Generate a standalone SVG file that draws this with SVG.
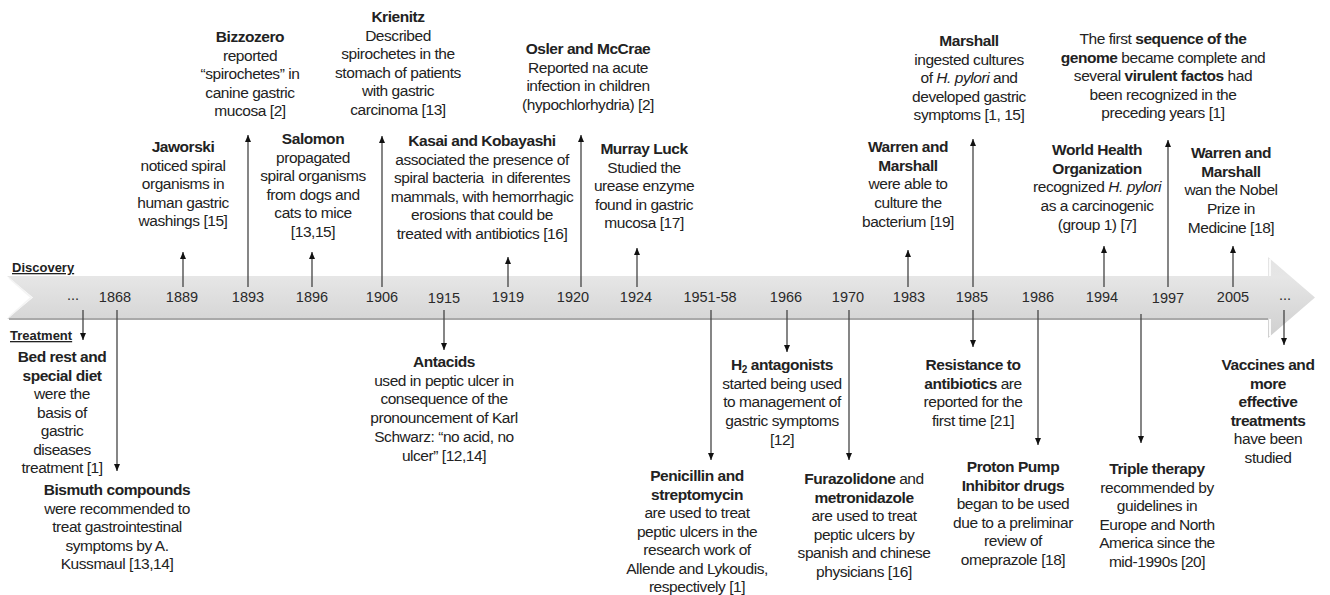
<svg xmlns="http://www.w3.org/2000/svg" width="1330" height="595" viewBox="0 0 1330 595">
<style>
text{font-family:"Liberation Sans",Arial,sans-serif;fill:#222;}
.t{font-size:15.5px;letter-spacing:-0.45px;text-anchor:middle;}
.b{font-weight:bold;}
.i{font-style:italic;}
.yr{font-size:14.5px;text-anchor:middle;fill:#2a2a2a;}
.lbl{font-size:13px;font-weight:bold;text-decoration:underline;}
.c line{stroke:#444;stroke-width:1.3;marker-end:url(#ah);}
</style>
<defs>
<marker id="ah" viewBox="0 0 7 6" refX="7" refY="3" markerWidth="7" markerHeight="6" markerUnits="userSpaceOnUse" orient="auto">
<path d="M0,0 L7,3 L0,6 z" fill="#111"/>
</marker>
<linearGradient id="bandGrad" x1="0" y1="0" x2="0" y2="1">
<stop offset="0" stop-color="#e4e4e4"/>
<stop offset="0.25" stop-color="#e6e6e6"/>
<stop offset="0.7" stop-color="#d8d8d8"/>
<stop offset="1" stop-color="#cfcfcf"/>
</linearGradient>
</defs>
<rect width="1330" height="595" fill="#fff"/>

<g id="timeline-band">
<polygon points="7,276 1268,276 1268,257 1315,297.5 1268,338 1268,319 7,319 33,297.5" fill="url(#bandGrad)"/>
<line x1="9" y1="319" x2="1268" y2="319" stroke="#a9a9a9" stroke-width="2"/>
<polyline points="1270,259 1270,276" fill="none" stroke="#fafafa" stroke-width="2"/>
<polyline points="1270,319 1270,336" fill="none" stroke="#fafafa" stroke-width="2"/>
<polyline points="9,278 31,297.5 9,317" fill="none" stroke="#f4f4f4" stroke-width="1.5"/>
</g>

<g id="section-labels">
<text class="lbl" x="12" y="272">Discovery</text>
<text class="lbl" x="10" y="340">Treatment</text>
</g>

<g id="years">
<text class="yr" x="73" y="300" fill="#555">...</text>
<text class="yr" x="115" y="302">1868</text>
<text class="yr" x="182" y="302">1889</text>
<text class="yr" x="248" y="302">1893</text>
<text class="yr" x="312" y="302">1896</text>
<text class="yr" x="382" y="302">1906</text>
<text class="yr" x="444" y="303">1915</text>
<text class="yr" x="508" y="302">1919</text>
<text class="yr" x="573" y="302">1920</text>
<text class="yr" x="636" y="302">1924</text>
<text class="yr" x="710" y="302">1951-58</text>
<text class="yr" x="786" y="302">1966</text>
<text class="yr" x="848" y="302">1970</text>
<text class="yr" x="909" y="302">1983</text>
<text class="yr" x="972" y="302">1985</text>
<text class="yr" x="1038" y="302">1986</text>
<text class="yr" x="1102" y="302">1994</text>
<text class="yr" x="1168" y="303">1997</text>
<text class="yr" x="1233" y="302">2005</text>
<text class="yr" x="1285" y="300" fill="#555">...</text>
</g>

<g id="connectors" class="c">
<line x1="183" y1="287" x2="183" y2="252"/>
<line x1="248" y1="287" x2="248" y2="135"/>
<line x1="312" y1="287" x2="312" y2="252"/>
<line x1="382" y1="287" x2="382" y2="136"/>
<line x1="508" y1="287" x2="508" y2="257"/>
<line x1="581" y1="287" x2="581" y2="135"/>
<line x1="637" y1="287" x2="637" y2="248"/>
<line x1="908" y1="287" x2="908" y2="250"/>
<line x1="973" y1="287" x2="973" y2="139"/>
<line x1="1104" y1="287" x2="1104" y2="246"/>
<line x1="1168" y1="287" x2="1168" y2="140"/>
<line x1="1233" y1="287" x2="1233" y2="246"/>
<line x1="83" y1="310" x2="83" y2="340"/>
<line x1="117" y1="310" x2="117" y2="471"/>
<line x1="444" y1="310" x2="444" y2="350"/>
<line x1="711" y1="310" x2="711" y2="460"/>
<line x1="787" y1="310" x2="787" y2="352"/>
<line x1="849" y1="310" x2="849" y2="460"/>
<line x1="973" y1="310" x2="973" y2="347"/>
<line x1="1038" y1="310" x2="1038" y2="445"/>
<line x1="1141" y1="314" x2="1141" y2="443"/>
<line x1="1284" y1="310" x2="1284" y2="345"/>
</g>

<g id="jaworski">
<text class="t" x="183" y="152"><tspan class="b">Jaworski</tspan><tspan x="183" dy="18.6">noticed spiral</tspan><tspan x="183" dy="18.6">organisms in</tspan><tspan x="183" dy="18.6">human gastric</tspan><tspan x="183" dy="18.6">washings [15]</tspan></text>
</g>
<g id="bizzozero">
<text class="t" x="250" y="42"><tspan class="b">Bizzozero</tspan><tspan x="250" dy="18.5">reported</tspan><tspan x="250" dy="18.5">“spirochetes” in</tspan><tspan x="250" dy="18.5">canine gastric</tspan><tspan x="250" dy="18.5">mucosa [2]</tspan></text>
</g>
<g id="salomon">
<text class="t" x="313" y="144"><tspan class="b">Salomon</tspan><tspan x="313" dy="18.6">propagated</tspan><tspan x="313" dy="18.6">spiral organisms</tspan><tspan x="313" dy="18.6">from dogs and</tspan><tspan x="313" dy="18.6">cats to mice</tspan><tspan x="313" dy="18.6">[13,15]</tspan></text>
</g>
<g id="krienitz">
<text class="t" x="398" y="22"><tspan class="b">Krienitz</tspan><tspan x="398" dy="18.6">Described</tspan><tspan x="398" dy="18.6">spirochetes in the</tspan><tspan x="398" dy="18.6">stomach of patients</tspan><tspan x="398" dy="18.6">with gastric</tspan><tspan x="398" dy="18.6">carcinoma [13]</tspan></text>
</g>
<g id="kasai-kobayashi">
<text class="t" x="482" y="146" xml:space="preserve"><tspan class="b">Kasai and Kobayashi</tspan><tspan x="482" dy="18.6">associated the presence of</tspan><tspan x="482" dy="18.6">spiral bacteria  in diferentes</tspan><tspan x="482" dy="18.6">mammals, with hemorrhagic</tspan><tspan x="482" dy="18.6">erosions that could be</tspan><tspan x="482" dy="18.6">treated with antibiotics [16]</tspan></text>
</g>
<g id="osler-mccrae">
<text class="t" x="588" y="54"><tspan class="b">Osler and McCrae</tspan><tspan x="588" dy="18.7">Reported na acute</tspan><tspan x="588" dy="18.7">infection in children</tspan><tspan x="588" dy="18.7">(hypochlorhydria) [2]</tspan></text>
</g>
<g id="murray-luck">
<text class="t" x="644" y="154"><tspan class="b">Murray Luck</tspan><tspan x="644" dy="18.5">Studied the</tspan><tspan x="644" dy="18.5">urease enzyme</tspan><tspan x="644" dy="18.5">found in gastric</tspan><tspan x="644" dy="18.5">mucosa [17]</tspan></text>
</g>
<g id="warren-marshall-1983">
<text class="t" x="908" y="152"><tspan class="b">Warren and</tspan><tspan x="908" dy="18.7" class="b">Marshall</tspan><tspan x="908" dy="18.7">were able to</tspan><tspan x="908" dy="18.7">culture the</tspan><tspan x="908" dy="18.7">bacterium [19]</tspan></text>
</g>
<g id="marshall-1985">
<text class="t" x="969" y="46"><tspan class="b">Marshall</tspan><tspan x="969" dy="18.5">ingested cultures</tspan><tspan x="969" dy="18.5">of <tspan class="i">H. pylori</tspan> and</tspan><tspan x="969" dy="18.5">developed gastric</tspan><tspan x="969" dy="18.5">symptoms [1, 15]</tspan></text>
</g>
<g id="who-1994">
<text class="t" x="1097" y="155"><tspan class="b">World Health</tspan><tspan x="1097" dy="18.7" class="b">Organization</tspan><tspan x="1097" dy="18.7">recognized <tspan class="i">H. pylori</tspan></tspan><tspan x="1097" dy="18.7">as a carcinogenic</tspan><tspan x="1097" dy="18.7">(group 1) [7]</tspan></text>
</g>
<g id="genome-1997">
<text class="t" x="1163" y="44"><tspan>The first <tspan class="b">sequence of the</tspan></tspan><tspan x="1163" dy="18.5"><tspan class="b">genome</tspan> became complete and</tspan><tspan x="1163" dy="18.5">several <tspan class="b">virulent factos</tspan> had</tspan><tspan x="1163" dy="18.5">been recognized in the</tspan><tspan x="1163" dy="18.5">preceding years [1]</tspan></text>
</g>
<g id="nobel-2005">
<text class="t" x="1231" y="158"><tspan class="b">Warren and</tspan><tspan x="1231" dy="18.7" class="b">Marshall</tspan><tspan x="1231" dy="18.7">wan the Nobel</tspan><tspan x="1231" dy="18.7">Prize in</tspan><tspan x="1231" dy="18.7">Medicine [18]</tspan></text>
</g>

<g id="bed-rest">
<text class="t" x="62" y="362"><tspan class="b">Bed rest and</tspan><tspan x="62" dy="18.5" class="b">special diet</tspan><tspan x="62" dy="18.5">were the</tspan><tspan x="62" dy="18.5">basis of</tspan><tspan x="62" dy="18.5">gastric</tspan><tspan x="62" dy="18.5">diseases</tspan><tspan x="62" dy="18.5">treatment [1]</tspan></text>
</g>
<g id="bismuth">
<text class="t" x="117" y="495"><tspan class="b">Bismuth compounds</tspan><tspan x="117" dy="18.5">were recommended to</tspan><tspan x="117" dy="18.5">treat gastrointestinal</tspan><tspan x="117" dy="18.5">symptoms by A.</tspan><tspan x="117" dy="18.5">Kussmaul [13,14]</tspan></text>
</g>
<g id="antacids">
<text class="t" x="444" y="367"><tspan class="b">Antacids</tspan><tspan x="444" dy="18.7">used in peptic ulcer in</tspan><tspan x="444" dy="18.7">consequence of the</tspan><tspan x="444" dy="18.7">pronouncement of Karl</tspan><tspan x="444" dy="18.7">Schwarz: “no acid, no</tspan><tspan x="444" dy="18.7">ulcer” [12,14]</tspan></text>
</g>
<g id="penicillin">
<text class="t" x="697" y="481"><tspan class="b">Penicillin and</tspan><tspan x="697" dy="18.5" class="b">streptomycin</tspan><tspan x="697" dy="18.5">are used to treat</tspan><tspan x="697" dy="18.5">peptic ulcers in the</tspan><tspan x="697" dy="18.5">research work of</tspan><tspan x="697" dy="18.5">Allende and Lykoudis,</tspan><tspan x="697" dy="18.5">respectively [1]</tspan></text>
</g>
<g id="h2-antagonists">
<text class="t" x="782" y="370"><tspan class="b">H<tspan font-size="10" dy="3">2</tspan><tspan dy="-3"> antagonists</tspan></tspan><tspan x="782" dy="18.7">started being used</tspan><tspan x="782" dy="18.7">to management of</tspan><tspan x="782" dy="18.7">gastric symptoms</tspan><tspan x="782" dy="18.7">[12]</tspan></text>
</g>
<g id="furazolidone">
<text class="t" x="864" y="484"><tspan><tspan class="b">Furazolidone</tspan> and</tspan><tspan x="864" dy="18.6" class="b">metronidazole</tspan><tspan x="864" dy="18.6">are used to treat</tspan><tspan x="864" dy="18.6">peptic ulcers by</tspan><tspan x="864" dy="18.6">spanish and chinese</tspan><tspan x="864" dy="18.6">physicians [16]</tspan></text>
</g>
<g id="resistance">
<text class="t" x="973" y="370"><tspan class="b">Resistance to</tspan><tspan x="973" dy="18.7"><tspan class="b">antibiotics</tspan> are</tspan><tspan x="973" dy="18.7">reported for the</tspan><tspan x="973" dy="18.7">first time [21]</tspan></text>
</g>
<g id="ppi">
<text class="t" x="1013" y="472"><tspan class="b">Proton Pump</tspan><tspan x="1013" dy="18.6" class="b">Inhibitor drugs</tspan><tspan x="1013" dy="18.6">began to be used</tspan><tspan x="1013" dy="18.6">due to a preliminar</tspan><tspan x="1013" dy="18.6">review of</tspan><tspan x="1013" dy="18.6">omeprazole [18]</tspan></text>
</g>
<g id="triple-therapy">
<text class="t" x="1157" y="474"><tspan class="b">Triple therapy</tspan><tspan x="1157" dy="18.6">recommended by</tspan><tspan x="1157" dy="18.6">guidelines in</tspan><tspan x="1157" dy="18.6">Europe and North</tspan><tspan x="1157" dy="18.6">America since the</tspan><tspan x="1157" dy="18.6">mid-1990s [20]</tspan></text>
</g>
<g id="vaccines">
<text class="t" x="1268" y="370"><tspan class="b">Vaccines and</tspan><tspan x="1268" dy="18.6" class="b">more</tspan><tspan x="1268" dy="18.6" class="b">effective</tspan><tspan x="1268" dy="18.6" class="b">treatments</tspan><tspan x="1268" dy="18.6">have been</tspan><tspan x="1268" dy="18.6">studied</tspan></text>
</g>
</svg>
